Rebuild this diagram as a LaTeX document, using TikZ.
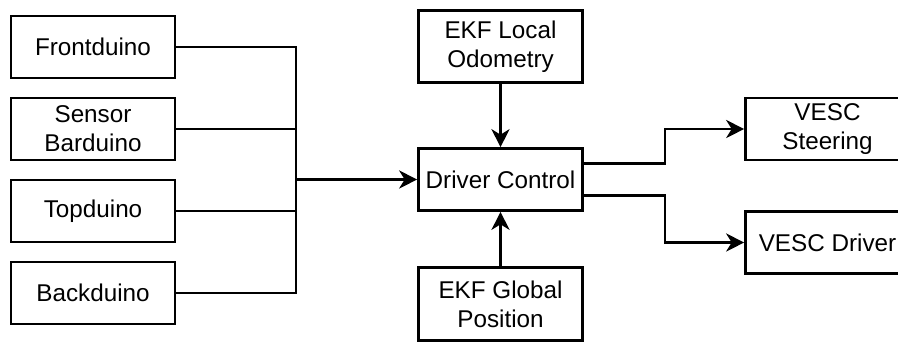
\documentclass[tikz,border=0pt]{standalone}
\usepackage{fontspec}
\setmainfont{Liberation Sans}
\usetikzlibrary{positioning,arrows.meta}

\begin{document}
\begin{tikzpicture}[node distance=1.64cm, on grid, line width=1.5pt,
  >={Stealth[length=3.6mm,width=3.6mm,inset=1.1mm]},
  block/.style={draw, minimum width=3.28cm, minimum height=1.24cm, inner sep=0pt,
    align=center, font=\fontsize{13.8}{16.5}\selectfont},
  tall/.style={block, minimum height=1.45cm}]
\useasboundingbox (0,0) rectangle (17.96,-6.86);
\node[block](fd) at (1.86,-0.94) {Frontduino};
\node[block](sb) [below=of fd] {Sensor\\Barduino};
\node[block](td) [below=of sb] {Topduino};
\node[block](bd) [below=of td] {Backduino};
\node[block](dc) at (10.01,-3.59) {Driver Control};
\node[tall](ekf_l) [above=2.66cm of dc] {EKF Local\\Odometry};
\node[tall](ekf_g) [below=2.49cm of dc] {EKF Global\\Position};
\node[block](vesc_s) [above right=1.01cm and 6.54cm of dc] {VESC\\Steering};
\node[block](vesc_d) [below right=1.26cm and 6.54cm of dc] {VESC Driver};
\coordinate[left=4.09cm of dc] (jn);
% inputs from the arduinos
\draw (fd.east) -| (jn);
\draw (sb.east) -| (jn);
\draw (td.east) -| (jn);
\draw (bd.east) -| (jn);
\draw[->] (jn) -- (dc.west);
\draw[->] (ekf_l) -- (dc);
\draw[->] (ekf_g) -- (dc);
% outputs to the vescs
\draw[->] ([yshift=0.32cm]dc.east) -- ++(1.62cm,0) |- (vesc_s.west);
\draw[->] ([yshift=-0.32cm]dc.east) -- ++(1.62cm,0) |- (vesc_d.west);
\end{tikzpicture}
\end{document}
